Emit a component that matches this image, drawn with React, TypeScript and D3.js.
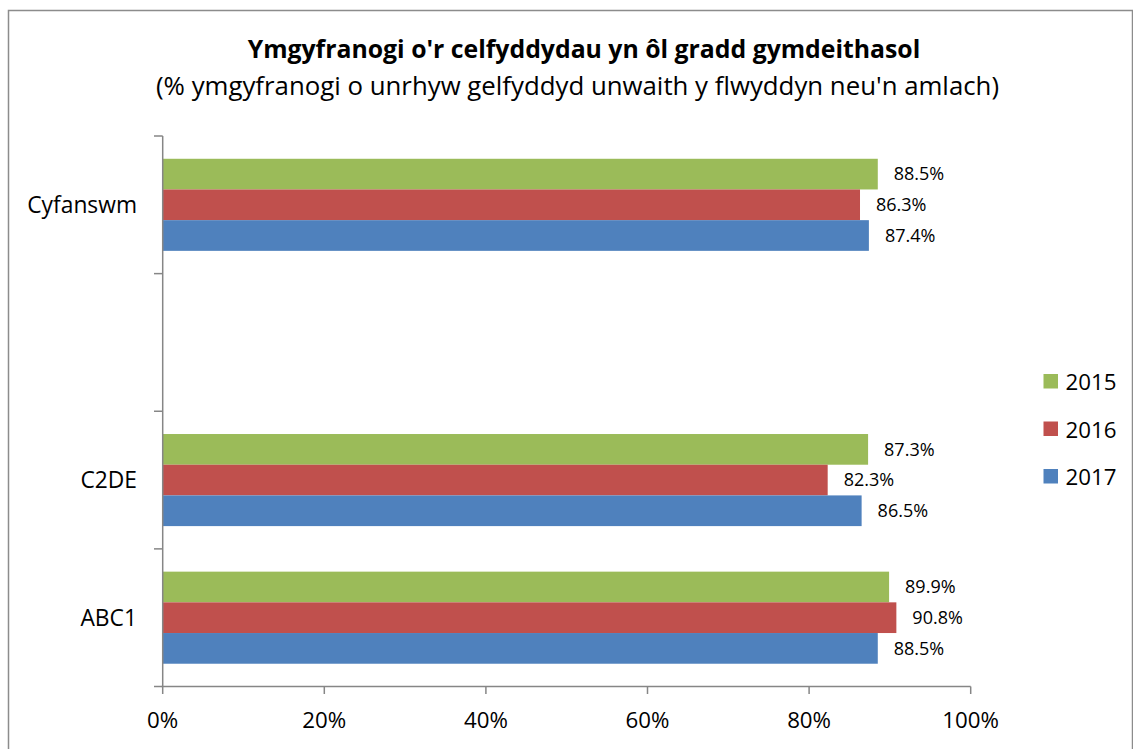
import React from "react";
import * as d3 from "d3";

const categories = ["Cyfanswm", "", "C2DE", "ABC1"];
const seriesNames = ["2015", "2016", "2017"];
const seriesColors = ["#9BBB59", "#C0504D", "#4F81BD"];
const values2015 = [88.5, null, 87.3, 89.9];
const values2016 = [86.3, null, 82.3, 90.8];
const values2017 = [87.4, null, 86.5, 88.5];
const xTicks = [0, 20, 40, 60, 80, 100];
const title = "Ymgyfranogi o'r celfyddydau yn ôl gradd gymdeithasol";
const subtitle = "(% ymgyfranogi o unrhyw gelfyddyd unwaith y flwyddyn neu'n amlach)";

const W = 1133;
const H = 749;
const FONT = "'Open Sans', 'Noto Sans', sans-serif";

export default function App() {
  const series = [values2015, values2016, values2017];
  const x = d3.scaleLinear().domain([0, 100]).range([162.7, 970.7]);
  const y = d3.scaleBand<string>().domain(categories.map((c, i) => String(i))).range([136, 686.5]).padding(0);
  const inner = d3.scaleBand<string>().domain(seriesNames).range([0, y.bandwidth()]).paddingInner(0).paddingOuter(0.742);
  const axisColor = "#868686";
  const tickPositions = d3.range(categories.length + 1).map((i) => 136 + i * y.step());

  return (
    <svg width={W} height={H} style={{ position: "absolute", left: 0, top: 0 }} fontFamily={FONT}>
      <rect x={0} y={0} width={W} height={H} fill="#fff" />
      <rect x={8.5} y={10.5} width={1124} height={900} fill="none" stroke="#8c8c8c" strokeWidth={1.5} />
      <text x={584} y={58} textAnchor="middle" fontWeight="bold" fontSize={24.8} fill="#000">{title}</text>
      <text x={577.5} y={95} textAnchor="middle" fontSize={25.8} fill="#000">{subtitle}</text>

      {categories.map((c, ci) =>
        series.map((vals, si) => {
          const v = vals[ci];
          if (v == null) return null;
          const yy = (y(String(ci)) as number) + (inner(seriesNames[si]) as number);
          return (
            <g key={`${ci}-${si}`}>
              <rect x={x(0)} y={yy} width={x(v) - x(0)} height={inner.bandwidth()} fill={seriesColors[si]} />
              <text x={x(v) + 16} y={yy + inner.bandwidth() / 2} dy="0.35em" fontSize={18} fill="#000">{`${v.toFixed(1)}%`}</text>
            </g>
          );
        })
      )}

      {/* y axis */}
      <line x1={x(0)} x2={x(0)} y1={136} y2={686.5} stroke={axisColor} strokeWidth={1.5} />
      {tickPositions.map((t, i) => (
        <line key={i} x1={154} x2={x(0)} y1={t} y2={t} stroke={axisColor} strokeWidth={1.5} />
      ))}
      {categories.map((c, ci) => (
        <text key={ci} x={137} y={(y(String(ci)) as number) + y.bandwidth() / 2} dy="0.36em" textAnchor="end" fontSize={22.8} fill="#000">{c}</text>
      ))}

      {/* x axis */}
      <line x1={x(0) - 1} x2={x(100)} y1={686.5} y2={686.5} stroke={axisColor} strokeWidth={1.5} />
      {xTicks.map((t) => (
        <g key={t}>
          <line x1={x(t)} x2={x(t)} y1={686.5} y2={694} stroke={axisColor} strokeWidth={1.5} />
          <text x={x(t)} y={728} textAnchor="middle" fontSize={22.3} fill="#000">{`${t}%`}</text>
        </g>
      ))}

      {/* legend */}
      {seriesNames.map((s, i) => (
        <g key={s} transform={`translate(1043.5, ${374 + i * 47.5})`}>
          <rect x={0} y={0} width={14.5} height={14.5} fill={seriesColors[i]} />
          <text x={22} y={16} fontSize={22.3} fill="#000">{s}</text>
        </g>
      ))}
    </svg>
  );
}
